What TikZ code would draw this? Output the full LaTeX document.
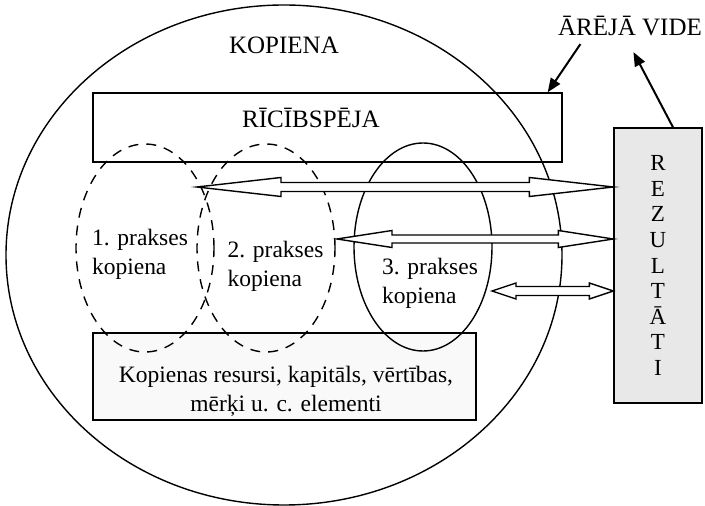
\documentclass[tikz,border=0pt]{standalone}
\usepackage{fontspec}
\setmainfont{Liberation Serif}
\usetikzlibrary{shapes.geometric,arrows.meta,calc}

% tip, end, head length, head half width, shaft half width
\newcommand{\hollowarrow}[5]{%
  \draw[hollow] let \p1=(#1), \p2=(#2) in
    (\x1,\y1) -- ++(#3,#4) -- ++(0,#5-#4) -- (\x2-#3,\y1+#5) -- ++(0,#4-#5) -- (\x2,\y1)
    -- ++(-#3,-#4) -- ++(0,#4-#5) -- (\x1+#3,\y1-#5) -- ++(0,#5-#4) -- cycle;}

\begin{document}
\begin{tikzpicture}[x=1pt,y=1pt,line width=1.4pt]
\tikzstyle{every node}=[inner sep=2pt]
\tikzstyle{caps}=[font=\fontsize{25}{30}\selectfont]
\tikzstyle{txt}=[font=\fontsize{23.5}{29}\selectfont]
\tikzstyle{box}=[draw,rectangle,inner sep=0pt]
\tikzstyle{prakse}=[draw,ellipse,inner sep=0pt,minimum width=138pt,minimum height=208pt]
\tikzstyle{hollow}=[draw,fill=white,line join=miter]
\tikzstyle{pointer}=[line width=2pt,-{Triangle[length=14pt,width=11pt]}]
\useasboundingbox (0,0) rectangle (705,506);

% kopiena
\node[draw,ellipse,inner sep=0pt,minimum width=556pt,minimum height=500pt] (kopiena) at (284,251) {};
\node[caps] (kopienatxt) at (284,460.5) {KOPIENA};

% ricibspeja un resursi
\node[box,minimum width=469pt,minimum height=69pt] (ricibspeja) at (327.5,378.5) {};
\node[caps] (ricibtxt) at (311,388.5) {RĪCĪBSPĒJA};
\node[box,fill=gray!5,minimum width=383pt,minimum height=87pt] (resursi) at (284.5,129.5) {};
\node[txt,align=center] (resursitxt) at (286,114.5) {Kopienas resursi, kapitāls, vērtības,\\mērķi u. c. elementi};

% prakses kopienas
\node[prakse,dash pattern=on 10pt off 8pt] (p1) at (145,258) {};
\node[prakse,dash pattern=on 10pt off 8pt] (p2) at (266,258) {};
\node[prakse] (p3) at (423,259) {};
\node[txt,align=left] (p1txt) at (140,252) {1. prakses\\kopiena};
\node[txt,align=left] (p2txt) at (275.5,239.5) {2. prakses\\kopiena};
\node[txt,align=left] (p3txt) at (430,222.5) {3. prakses\\kopiena};

% rezultati
\node[box,fill=gray!18,minimum width=88pt,minimum height=275pt,align=center,
  font=\fontsize{23}{25.6}\selectfont] (rez) at (658,240.5) {R\\E\\Z\\U\\L\\T\\Ā\\T\\I};

\coordinate (a1) at (197,319);
\coordinate (a2) at (337,267);
\coordinate (a3) at (492,215);
\hollowarrow{a1}{rez.west |- a1}{84}{9.5}{4.5}
\hollowarrow{a2}{rez.west |- a2}{55}{8.5}{4}
\hollowarrow{a3}{rez.west |- a3}{24}{8}{4.5}

% areja vide
\node[caps] (vide) at (630,479.5) {ĀRĒJĀ VIDE};
\draw[pointer] ([shift={(25,-5)}]vide.south west) -- ([xshift=-15pt]ricibspeja.north east);
\draw[pointer] ([xshift=15pt]rez.north) -- ([shift={(78,-13)}]vide.south west);
\end{tikzpicture}
\end{document}
